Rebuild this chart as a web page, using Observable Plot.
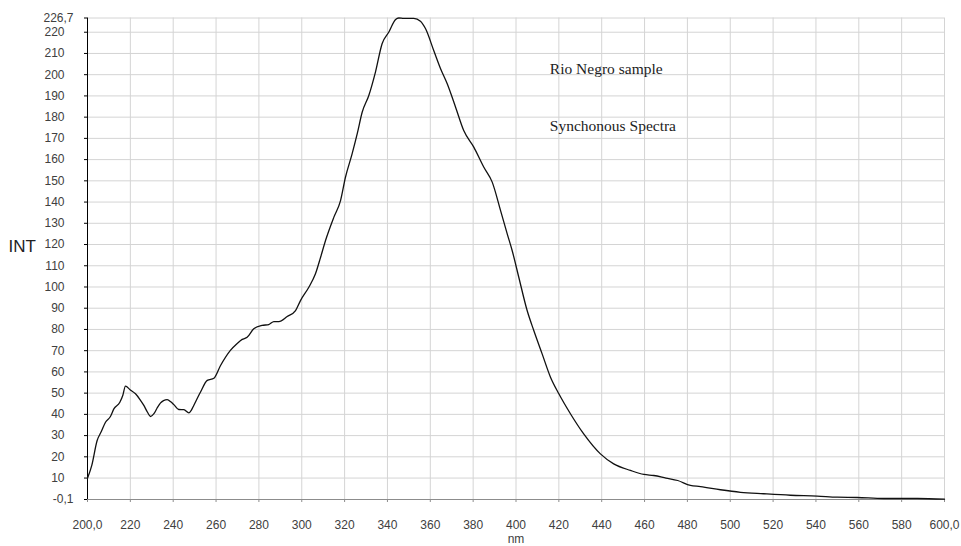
<!DOCTYPE html>
<html>
<head>
<meta charset="utf-8">
<script src="https://cdn.jsdelivr.net/npm/d3@7"></script>
<script src="https://cdn.jsdelivr.net/npm/@observablehq/plot@0.6"></script>
<style>
  html, body { margin: 0; padding: 0; background: #fff; }
  #chart { width: 961px; height: 546px; }
</style>
</head>
<body>
<div id="chart"></div>
<script>
// Wavelength (nm) sample points
const wavelength = [200, 202, 204.5, 206.5, 208.4, 210.7, 212.3, 215.1, 216.5, 217.7, 220, 222.4, 224.5, 226.3, 228, 229.4, 231, 232.5, 234.1, 235.5, 237.2, 239, 240.3, 242.6, 245, 247.3, 248.5, 249.6, 252.7, 255.9, 259, 262.1, 266.7, 270, 272.2, 274.5, 277.6, 281.5, 284.6, 287, 289.3, 293.2, 297.1, 299.4, 303.3, 306.4, 308.8, 311.1, 315, 318.1, 320.4, 323.5, 325.9, 328.2, 331.3, 334.4, 337.5, 340.6, 343.8, 345.3, 347.6, 352.3, 355.4, 357.8, 361.6, 364.8, 367.9, 371.8, 375.6, 380.3, 385, 388.9, 392.8, 395.9, 398.2, 401.3, 405.2, 408.3, 412.2, 416.1, 420, 425.4, 431.6, 439.4, 445.6, 453.4, 459.7, 464.3, 470, 475.5, 481.4, 486.1, 495.4, 504.8, 515.6, 528.1, 540.6, 549.9, 559.2, 571.7, 587.3, 600];
// Intensity values (INT)
const intensity = [9.9, 16, 27.7, 32, 36.3, 39, 42.6, 45.7, 49, 53.3, 51.5, 49.7, 47, 44.2, 41, 39, 40.3, 43, 45.4, 46.5, 46.9, 45.8, 44.6, 42.3, 42.2, 40.7, 42, 44.2, 50.4, 56, 57, 63, 70.1, 73.5, 75.3, 76.3, 80.3, 81.9, 82.3, 83.7, 83.7, 86.1, 88.9, 93.6, 99.9, 106.2, 114, 121.9, 132.9, 140.7, 151.7, 162.7, 172.2, 182.3, 190.2, 201.2, 214.6, 220, 226.0, 226.7, 226.5, 226.5, 225.2, 221.6, 211.4, 202.8, 195.7, 184.7, 173.7, 165.9, 156.4, 149.4, 136, 125, 117.2, 104.6, 88.9, 79.5, 68.5, 57.5, 49.7, 40.3, 30.8, 21.4, 16.7, 13.6, 11.7, 11.2, 10, 8.85, 6.5, 6.0, 4.5, 3.3, 2.6, 1.9, 1.5, 1.0, 0.85, 0.37, 0.37, 0.05];

// Axis ticks
const xTicks = [200, 220, 240, 260, 280, 300, 320, 340, 360, 380, 400, 420, 440, 460, 480, 500, 520, 540, 560, 580, 600];
const xTickLabels = ["200,0", "220", "240", "260", "280", "300", "320", "340", "360", "380", "400", "420", "440", "460", "480", "500", "520", "540", "560", "580", "600,0"];
const yTicks = [10, 20, 30, 40, 50, 60, 70, 80, 90, 100, 110, 120, 130, 140, 150, 160, 170, 180, 190, 200, 210, 220];
const yEndTicks = [-0.1, 226.7];
const yEndLabels = ["-0,1", "226,7"];

// Annotations
const noteLabels = ["Rio Negro sample", "Synchonous Spectra"];
const noteX = [415.8, 415.8];
const noteY = [200.1, 173.4];

const data = wavelength.map((w, i) => ({nm: w, v: intensity[i]}));
const notes = noteLabels.map((t, i) => ({t, x: noteX[i], y: noteY[i]}));
const xLab = new Map(xTicks.map((t, i) => [t, xTickLabels[i]]));
const yEndLab = new Map(yEndTicks.map((t, i) => [t, yEndLabels[i]]));

const gridColor = "#d4d4d4";

const chart = Plot.plot({
  width: 961,
  height: 546,
  marginLeft: 87,
  marginRight: 17,
  marginTop: 17.5,
  marginBottom: 47,
  style: {fontFamily: "'Liberation Sans', Arial, sans-serif", fontSize: "12px", color: "#404040", background: "#fff"},
  x: {domain: [200, 600], label: null},
  y: {domain: [-0.1, 226.7], label: null},
  marks: [
    // gridlines
    Plot.ruleY(yTicks.concat([226.7]), {stroke: gridColor, strokeWidth: 1}),
    Plot.ruleX(xTicks.slice(1), {stroke: gridColor, strokeWidth: 1}),
    // x axis
    Plot.axisX({ticks: xTicks, tickFormat: d => xLab.get(d), tickSize: 3, tickPadding: 18, stroke: "#8c8c8c", label: null, fill: "#404040"}),
    Plot.ruleY([-0.1], {stroke: "#8c8c8c", strokeWidth: 1}),
    // y axis
    Plot.axisY({ticks: yTicks, tickFormat: d => String(d), tickSize: 3, tickPadding: 20, stroke: "#000", label: null, fill: "#404040"}),
    Plot.axisY({ticks: yEndTicks, tickFormat: d => yEndLab.get(d), tickSize: 3, tickPadding: 11, stroke: "#000", label: null, fill: "#404040"}),
    Plot.ruleX([200], {stroke: "#000", strokeWidth: 1}),
    // spectrum
    Plot.line(data, {x: "nm", y: "v", stroke: "#111", strokeWidth: 1.3, curve: "monotone-x"}),
    // annotations
    Plot.text(notes, {x: "x", y: "y", text: "t", textAnchor: "start", lineAnchor: "bottom", fontFamily: "'Liberation Serif', 'Times New Roman', serif", fontSize: 15.5, fill: "#222"}),
    // axis titles
    Plot.text(["INT"], {frameAnchor: "left", text: d => d, textAnchor: "start", dx: -79, dy: -12, fontSize: 17, fill: "#222"}),
    Plot.text(["nm"], {frameAnchor: "bottom", text: d => d, textAnchor: "middle", lineAnchor: "bottom", dy: 43, fontSize: 12, fill: "#404040"})
  ]
});
document.getElementById("chart").appendChild(chart);
</script>
</body>
</html>
